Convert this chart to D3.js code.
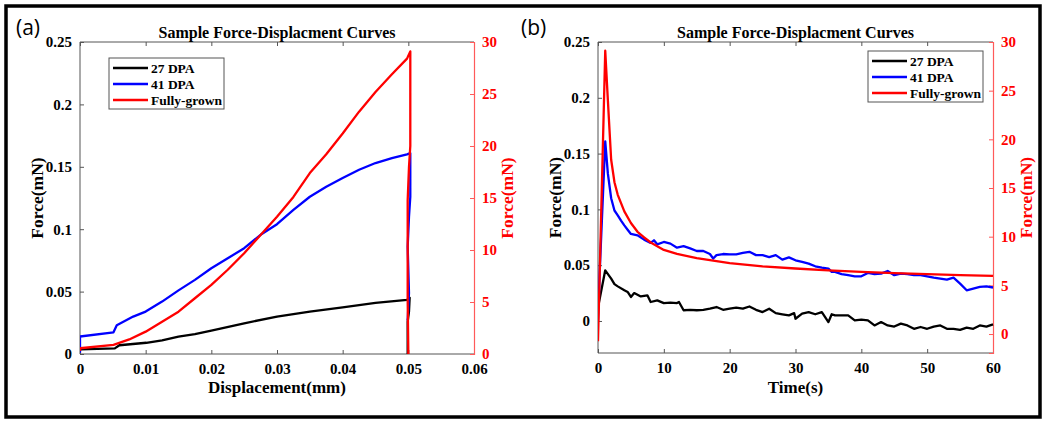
<!DOCTYPE html>
<html>
<head>
<meta charset="utf-8">
<script src="https://cdn.jsdelivr.net/npm/d3@7"></script>
<style>
  body { margin: 0; background: #fff; }
  text { font-family: "Liberation Serif", "Times New Roman", serif; font-weight: bold; }
  .panel-tag { font-family: "Open Sans", "Noto Sans", sans-serif; font-weight: normal; }
</style>
</head>
<body>
<div id="chart"></div>
<script>
  // ---- data ----
  var seriesNames = ["27 DPA", "41 DPA", "Fully-grown"];
  var seriesColors = ["#000000", "#0000ff", "#ff0000"];

  // panel (a): displacement (mm) vs force
  var dispBlack = [[0, 0.003], [0, 0.0037], [0.0053, 0.0045], [0.006, 0.007], [0.0101, 0.009], [0.0125, 0.011],
    [0.015, 0.014], [0.0175, 0.016], [0.02, 0.0187], [0.025, 0.0246], [0.03, 0.030], [0.035, 0.034],
    [0.04, 0.0374], [0.045, 0.041], [0.0498, 0.0433], [0.0502, 0.045], [0.0501, 0.034], [0.0499, 0.026],
    [0.0499, 0.012], [0.0499, 0]];
  var dispBlue = [[0, 0.001], [0, 0.014], [0.0051, 0.0174], [0.0056, 0.023], [0.0081, 0.030], [0.01, 0.034],
    [0.0125, 0.042], [0.015, 0.051], [0.0175, 0.0594], [0.02, 0.0687], [0.0225, 0.0767], [0.025, 0.0848],
    [0.0275, 0.0955], [0.03, 0.104], [0.0325, 0.1155], [0.035, 0.126], [0.0375, 0.134], [0.04, 0.141],
    [0.0425, 0.1476], [0.045, 0.153], [0.0475, 0.157], [0.0498, 0.160], [0.0503, 0.161], [0.0503, 0.126],
    [0.0501, 0.110], [0.0499, 0.086], [0.0501, 0.049], [0.0499, 0.027]];
  var dispRed = [[0, 0.3], [0, 0.55], [0.0051, 0.87], [0.0075, 1.4], [0.01, 2.15], [0.0125, 3.1], [0.015, 4.07],
    [0.0175, 5.36], [0.02, 6.64], [0.0225, 8.1], [0.025, 9.69], [0.0275, 11.45], [0.03, 13.2],
    [0.0325, 15.1], [0.035, 17.4], [0.0375, 19.2], [0.04, 21.2], [0.0425, 23.3], [0.045, 25.2],
    [0.0475, 26.9], [0.0498, 28.4], [0.0503, 29.1], [0.0503, 20], [0.0501, 18], [0.0499, 14.8],
    [0.0499, 5.2], [0.05, 0]];

  // panel (b): time (s) vs force
  var timeBlack = [[0, 0.012], [1.1, 0.0454], [2, 0.038], [2.5, 0.033], [3, 0.031], [4, 0.0275], [4.5, 0.026],
    [5, 0.0215], [5.5, 0.025], [6.5, 0.022], [7.5, 0.023], [8, 0.017], [9, 0.0185], [10, 0.016],
    [11, 0.0165], [12, 0.016], [12.3, 0.017], [13, 0.0096], [14, 0.010], [15, 0.0096], [16, 0.010],
    [17, 0.011], [18, 0.0125], [19, 0.010], [20, 0.011], [21, 0.012], [22, 0.011], [23, 0.013],
    [24, 0.010], [25, 0.008], [26, 0.011], [27, 0.007], [28, 0.006], [29, 0.005], [29.8, 0.007],
    [30, 0.002], [31, 0.0066], [32, 0.008], [33, 0.006], [34, 0.008], [35, -0.001], [35.5, 0.006],
    [36, 0.005], [37, 0.005], [38, 0.005], [39, 0.0006], [40, 0.0012], [41, 0.0006], [42, -0.004],
    [43, -0.001], [44, -0.004], [45, -0.005], [46, -0.0024], [47, -0.004], [48, -0.007], [49, -0.0054],
    [50, -0.007], [51, -0.005], [52, -0.004], [53, -0.007], [54, -0.007], [55, -0.008], [56, -0.006],
    [57, -0.007], [58, -0.004], [59, -0.005], [60, -0.003]];
  var timeBlue = [[0, 0.0], [0.3, 0.05], [1.1, 0.161], [1.5, 0.132], [2, 0.110], [2.5, 0.099], [3, 0.0947],
    [3.5, 0.090], [4, 0.0857], [4.5, 0.0818], [5, 0.078], [6, 0.0768], [7, 0.0729], [8, 0.070],
    [8.5, 0.0723], [9, 0.0687], [10, 0.0708], [11, 0.0693], [12, 0.0657], [13, 0.067], [14, 0.065],
    [15, 0.0627], [16, 0.0627], [17, 0.060], [17.5, 0.056], [18, 0.059], [19, 0.060], [20, 0.0597],
    [21, 0.0597], [22, 0.061], [23, 0.062], [24, 0.059], [25, 0.059], [26, 0.0573], [27, 0.059],
    [28, 0.055], [29, 0.057], [30, 0.0544], [31, 0.053], [32, 0.0514], [33, 0.049], [34, 0.0478],
    [35, 0.047], [35.5, 0.044], [36, 0.044], [37, 0.042], [38, 0.041], [39, 0.040], [40, 0.040],
    [41, 0.043], [42, 0.042], [43, 0.0424], [44, 0.0448], [45, 0.041], [46, 0.0424], [47, 0.042],
    [48, 0.041], [49, 0.041], [50, 0.040], [51, 0.0388], [52, 0.038], [53, 0.037], [54, 0.0388],
    [55, 0.0335], [56, 0.0275], [57, 0.029], [58, 0.0305], [59, 0.031], [60, 0.030]];
  var timeRed = [[0, -0.75], [1.1, 29.1], [1.5, 24.0], [2, 17.9], [2.5, 15.6], [3, 14.3], [4, 12.6],
    [5, 11.4], [6, 10.5], [7, 9.94], [8, 9.4], [10, 8.64], [12, 8.23], [15, 7.79], [20, 7.28],
    [25, 6.94], [30, 6.73], [35, 6.53], [40, 6.39], [45, 6.25], [50, 6.15], [55, 6.05], [60, 5.98]];

  var dispTicks = [0, 0.01, 0.02, 0.03, 0.04, 0.05, 0.06];
  var timeTicks = [0, 10, 20, 30, 40, 50, 60];
  var leftTicks = [0, 0.05, 0.1, 0.15, 0.2, 0.25];
  var rightTicks = [0, 5, 10, 15, 20, 25, 30];

  var width = 1050, height = 425;

  var svg = d3.select("#chart")
    .append("svg")
    .attr("width", width)
    .attr("height", height);

  svg.append("rect")
    .attr("x", 6).attr("y", 6)
    .attr("width", 1034).attr("height", 411)
    .attr("fill", "none")
    .attr("stroke", "#000")
    .attr("stroke-width", 3.5);

  var panels = [
    {
      tag: "(a)", tagX: 16,
      left: 80, right: 474, top: 42, bottom: 354,
      xDomain: [0, 0.06], yDomain: [0, 0.25], y2Domain: [0, 30],
      xTicks: dispTicks, xFormat: function(d) { return d === 0 ? "0" : d3.format(".2f")(d); },
      xLabel: "Displacement(mm)",
      lines: [dispBlack, dispBlue], red: dispRed,
      legend: { x: 109, y: 58, w: 115, h: 51 }
    },
    {
      tag: "(b)", tagX: 521,
      left: 598, right: 993, top: 42, bottom: 353,
      xDomain: [0, 60], yDomain: [-0.0287, 0.25], y2Domain: [-1.95, 30],
      xTicks: timeTicks, xFormat: d3.format("d"),
      xLabel: "Time(s)",
      lines: [timeBlack, timeBlue], red: timeRed,
      legend: { x: 868, y: 51, w: 115, h: 51 }
    }
  ];

  var yFormat = function(d) { return d === 0 ? "0" : String(+d.toFixed(2)); };

  panels.forEach(function(p) {
    var g = svg.append("g");
    var x = d3.scaleLinear().domain(p.xDomain).range([p.left, p.right]);
    var y = d3.scaleLinear().domain(p.yDomain).range([p.bottom, p.top]);
    var y2 = d3.scaleLinear().domain(p.y2Domain).range([p.bottom, p.top]);
    var cx = (p.left + p.right) / 2, cy = (p.top + p.bottom) / 2;

    // box: left, top, bottom in dark grey
    g.append("path")
      .attr("d", "M" + p.right + "," + p.top + "H" + p.left + "V" + p.bottom + "H" + p.right)
      .attr("fill", "none").attr("stroke", "#555").attr("stroke-width", 1);

    // ticks pointing inward, matlab style
    var xb = g.append("g").attr("transform", "translate(0," + p.bottom + ")")
      .call(d3.axisBottom(x).tickValues(p.xTicks).tickSize(-4).tickPadding(9).tickFormat(p.xFormat));
    var xt = g.append("g").attr("transform", "translate(0," + p.top + ")")
      .call(d3.axisTop(x).tickValues(p.xTicks).tickSize(-4).tickFormat(""));
    var yl = g.append("g").attr("transform", "translate(" + p.left + ",0)")
      .call(d3.axisLeft(y).tickValues(leftTicks).tickSize(-4).tickPadding(8).tickFormat(yFormat));
    var yr = g.append("g").attr("transform", "translate(" + p.right + ",0)")
      .call(d3.axisRight(y2).tickValues(rightTicks).tickSize(-4).tickPadding(8).tickFormat(d3.format("d")));

    [xb, xt, yl].forEach(function(a) {
      a.select(".domain").remove();
      a.selectAll(".tick line").attr("stroke", "#555");
      a.selectAll(".tick text").attr("fill", "#000").style("font-size", "15px");
    });
    yr.select(".domain").attr("stroke", "#ff5a5a").attr("stroke-width", 1.2);
    yr.selectAll(".tick line").attr("stroke", "#ff5a5a");
    yr.selectAll(".tick text").attr("fill", "#ff0000").style("font-size", "15px");

    // curves
    var clipId = "clip" + p.tag.replace(/\W/g, "");
    svg.append("clipPath").attr("id", clipId).append("rect")
      .attr("x", p.left).attr("y", p.top - 2).attr("width", p.right - p.left + 2).attr("height", p.bottom - p.top + 4);
    var plot = g.append("g").attr("clip-path", "url(#" + clipId + ")");

    var line = d3.line().x(function(d) { return x(d[0]); }).y(function(d) { return y(d[1]); });
    var line2 = d3.line().x(function(d) { return x(d[0]); }).y(function(d) { return y2(d[1]); });

    p.lines.forEach(function(data, i) {
      plot.append("path").datum(data)
        .attr("d", line)
        .attr("fill", "none")
        .attr("stroke", seriesColors[i])
        .attr("stroke-width", 2.3)
        .attr("stroke-linejoin", "round");
    });
    plot.append("path").datum(p.red)
      .attr("d", line2)
      .attr("fill", "none")
      .attr("stroke", seriesColors[2])
      .attr("stroke-width", 2.3)
      .attr("stroke-linejoin", "round");

    // titles and labels
    g.append("text").attr("x", cx).attr("y", 38)
      .attr("text-anchor", "middle").style("font-size", "16px").text("Sample Force-Displacment Curves");
    g.append("text").attr("x", cx).attr("y", 393)
      .attr("text-anchor", "middle").style("font-size", "17px").text(p.xLabel);
    g.append("text")
      .attr("transform", "translate(" + (p.left - 37) + "," + cy + ") rotate(-90)")
      .attr("text-anchor", "middle").style("font-size", "17.5px").text("Force(mN)");
    g.append("text")
      .attr("transform", "translate(" + (p.right + 39) + "," + cy + ") rotate(-90)")
      .attr("text-anchor", "middle").attr("fill", "#ff0000").style("font-size", "17.5px").text("Force(mN)");
    g.append("text").attr("class", "panel-tag")
      .attr("x", p.tagX).attr("y", 35).style("font-size", "21px").text(p.tag);

    // legend
    var lg = g.append("g").attr("transform", "translate(" + p.legend.x + "," + p.legend.y + ")");
    lg.append("rect").attr("width", p.legend.w).attr("height", p.legend.h)
      .attr("fill", "#fff").attr("stroke", "#555").attr("stroke-width", 1);
    seriesNames.forEach(function(name, i) {
      var ry = 10 + i * 16;
      lg.append("line").attr("x1", 4).attr("x2", 39).attr("y1", ry).attr("y2", ry)
        .attr("stroke", seriesColors[i]).attr("stroke-width", 2.3);
      lg.append("text").attr("x", 42).attr("y", ry + 5)
        .style("font-size", "13.5px").text(name);
    });
  });
</script>
</body>
</html>
